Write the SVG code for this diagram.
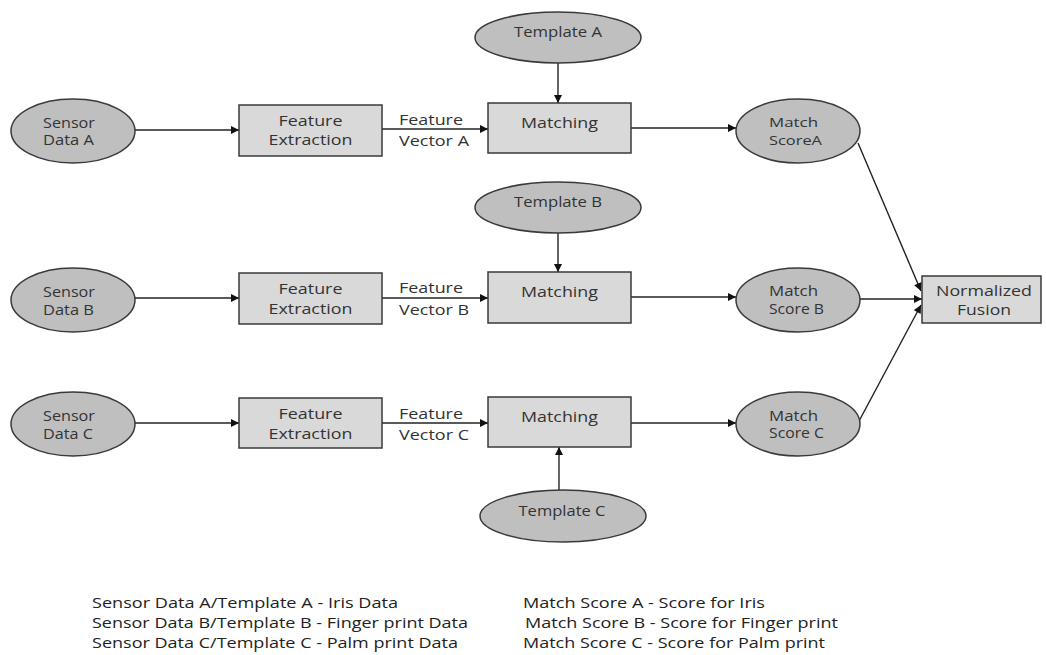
<svg xmlns="http://www.w3.org/2000/svg" width="1046" height="655" viewBox="0 0 1046 655">
<style>
.ell{fill:#bfbfbf;stroke:#3a3a3a;stroke-width:1.5}
.box{fill:#d9d9d9;stroke:#3a3a3a;stroke-width:1.5}
text{font-family:"Open Sans","Liberation Sans",sans-serif;fill:#333}
.t14{font-size:14px}
.t13{font-size:13px}
.t15{font-size:15px}
.mid{text-anchor:middle}
.leg{font-size:15px;fill:#222}
.con line{stroke:#222;stroke-width:1.4;fill:none}
</style>
<defs>
<marker id="ah" viewBox="0 0 10 10" refX="10" refY="5" markerWidth="9" markerHeight="8" markerUnits="userSpaceOnUse" orient="auto">
<path d="M0,0 L10,5 L0,10 z" fill="#111"/>
</marker>
</defs>

<g class="con" id="connectors">
<line x1="135" y1="130" x2="239" y2="130" marker-end="url(#ah)"/>
<line x1="382" y1="129" x2="488" y2="129" marker-end="url(#ah)"/>
<line x1="631" y1="128" x2="736" y2="128" marker-end="url(#ah)"/>
<line x1="558" y1="63" x2="558" y2="103" marker-end="url(#ah)"/>
<line x1="135" y1="298" x2="239" y2="298" marker-end="url(#ah)"/>
<line x1="382" y1="298" x2="488" y2="298" marker-end="url(#ah)"/>
<line x1="631" y1="297" x2="736" y2="297" marker-end="url(#ah)"/>
<line x1="558" y1="233" x2="558" y2="272" marker-end="url(#ah)"/>
<line x1="135" y1="423" x2="239" y2="423" marker-end="url(#ah)"/>
<line x1="382" y1="423" x2="488" y2="423" marker-end="url(#ah)"/>
<line x1="631" y1="423" x2="736" y2="423" marker-end="url(#ah)"/>
<line x1="559" y1="490" x2="559" y2="447" marker-end="url(#ah)"/>
<line x1="858" y1="143" x2="921" y2="291" marker-end="url(#ah)"/>
<line x1="860" y1="299" x2="922" y2="299" marker-end="url(#ah)"/>
<line x1="858" y1="423" x2="921" y2="305" marker-end="url(#ah)"/>
</g>

<g id="labels">
<text class="t15" x="399" y="125" textLength="64" lengthAdjust="spacingAndGlyphs">Feature</text>
<text class="t15" x="399" y="146" textLength="70" lengthAdjust="spacingAndGlyphs">Vector A</text>
<text class="t15" x="399" y="293" textLength="64" lengthAdjust="spacingAndGlyphs">Feature</text>
<text class="t15" x="399" y="315" textLength="70" lengthAdjust="spacingAndGlyphs">Vector B</text>
<text class="t15" x="399" y="419" textLength="64" lengthAdjust="spacingAndGlyphs">Feature</text>
<text class="t15" x="399" y="440" textLength="70" lengthAdjust="spacingAndGlyphs">Vector C</text>
</g>

<g id="sensorA">
<ellipse class="ell" cx="73" cy="131" rx="62" ry="32"/>
<text class="t14" x="43" y="128" textLength="52" lengthAdjust="spacingAndGlyphs">Sensor</text>
<text class="t14" x="43" y="145" textLength="51" lengthAdjust="spacingAndGlyphs">Data A</text>
</g>
<g id="sensorB">
<ellipse class="ell" cx="73" cy="300" rx="62" ry="32"/>
<text class="t14" x="43" y="297" textLength="52" lengthAdjust="spacingAndGlyphs">Sensor</text>
<text class="t14" x="43" y="315" textLength="51" lengthAdjust="spacingAndGlyphs">Data B</text>
</g>
<g id="sensorC">
<ellipse class="ell" cx="73" cy="424" rx="62" ry="32"/>
<text class="t14" x="43" y="421" textLength="52" lengthAdjust="spacingAndGlyphs">Sensor</text>
<text class="t14" x="43" y="439" textLength="50" lengthAdjust="spacingAndGlyphs">Data C</text>
</g>

<g id="featA">
<rect class="box" x="239" y="105" width="143" height="51"/>
<text class="t15 mid" x="310.5" y="126" textLength="64" lengthAdjust="spacingAndGlyphs">Feature</text>
<text class="t15 mid" x="310.5" y="145" textLength="84" lengthAdjust="spacingAndGlyphs">Extraction</text>
</g>
<g id="featB">
<rect class="box" x="239" y="273" width="143" height="51"/>
<text class="t15 mid" x="310.5" y="294" textLength="64" lengthAdjust="spacingAndGlyphs">Feature</text>
<text class="t15 mid" x="310.5" y="314" textLength="84" lengthAdjust="spacingAndGlyphs">Extraction</text>
</g>
<g id="featC">
<rect class="box" x="239" y="398" width="143" height="50"/>
<text class="t15 mid" x="310.5" y="419" textLength="64" lengthAdjust="spacingAndGlyphs">Feature</text>
<text class="t15 mid" x="310.5" y="439" textLength="84" lengthAdjust="spacingAndGlyphs">Extraction</text>
</g>

<g id="templateA">
<ellipse class="ell" cx="558" cy="37.5" rx="83" ry="25.5"/>
<text class="t14 mid" x="558" y="37" textLength="88" lengthAdjust="spacingAndGlyphs">Template A</text>
</g>
<g id="templateB">
<ellipse class="ell" cx="558" cy="207.5" rx="83" ry="25.5"/>
<text class="t14 mid" x="558" y="207" textLength="88" lengthAdjust="spacingAndGlyphs">Template B</text>
</g>
<g id="templateC">
<ellipse class="ell" cx="563" cy="516" rx="83" ry="26"/>
<text class="t14 mid" x="562" y="516" textLength="87" lengthAdjust="spacingAndGlyphs">Template C</text>
</g>

<g id="matchingA">
<rect class="box" x="488" y="103" width="143" height="50"/>
<text class="t15 mid" x="559.5" y="128" textLength="77" lengthAdjust="spacingAndGlyphs">Matching</text>
</g>
<g id="matchingB">
<rect class="box" x="488" y="272" width="143" height="51"/>
<text class="t15 mid" x="559.5" y="297" textLength="77" lengthAdjust="spacingAndGlyphs">Matching</text>
</g>
<g id="matchingC">
<rect class="box" x="488" y="397" width="143" height="50"/>
<text class="t15 mid" x="559.5" y="422" textLength="77" lengthAdjust="spacingAndGlyphs">Matching</text>
</g>

<g id="scoreA">
<ellipse class="ell" cx="798" cy="131" rx="62" ry="32"/>
<text class="t13" x="769" y="127" textLength="49" lengthAdjust="spacingAndGlyphs">Match</text>
<text class="t13" x="769" y="145" textLength="53" lengthAdjust="spacingAndGlyphs">ScoreA</text>
</g>
<g id="scoreB">
<ellipse class="ell" cx="798" cy="300" rx="62" ry="32"/>
<text class="t14" x="769" y="296" textLength="49" lengthAdjust="spacingAndGlyphs">Match</text>
<text class="t14" x="769" y="314" textLength="55" lengthAdjust="spacingAndGlyphs">Score B</text>
</g>
<g id="scoreC">
<ellipse class="ell" cx="798" cy="424" rx="62" ry="32"/>
<text class="t14" x="769" y="421" textLength="49" lengthAdjust="spacingAndGlyphs">Match</text>
<text class="t14" x="769" y="438" textLength="55" lengthAdjust="spacingAndGlyphs">Score C</text>
</g>

<g id="fusion">
<rect class="box" x="922" y="276" width="119" height="47"/>
<text class="t15 mid" x="984" y="296" textLength="96" lengthAdjust="spacingAndGlyphs">Normalized</text>
<text class="t15 mid" x="984" y="315" textLength="54" lengthAdjust="spacingAndGlyphs">Fusion</text>
</g>

<g id="legend">
<text class="leg" x="92" y="608" textLength="306" lengthAdjust="spacingAndGlyphs">Sensor Data A/Template A - Iris Data</text>
<text class="leg" x="92" y="628" textLength="376" lengthAdjust="spacingAndGlyphs">Sensor Data B/Template B - Finger print Data</text>
<text class="leg" x="92" y="648" textLength="366" lengthAdjust="spacingAndGlyphs">Sensor Data C/Template C - Palm print Data</text>
<text class="leg" x="523" y="608" textLength="242" lengthAdjust="spacingAndGlyphs">Match Score A - Score for Iris</text>
<text class="leg" x="525" y="628" textLength="313" lengthAdjust="spacingAndGlyphs">Match Score B - Score for Finger print</text>
<text class="leg" x="523" y="648" textLength="302" lengthAdjust="spacingAndGlyphs">Match Score C - Score for Palm print</text>
</g>
</svg>
